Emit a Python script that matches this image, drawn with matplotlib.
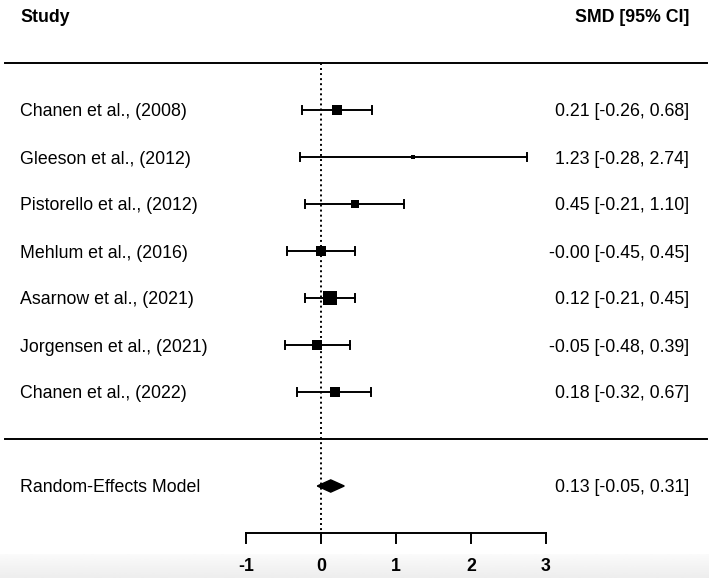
import numpy as np
import matplotlib.pyplot as plt
from matplotlib.patches import Polygon

plt.rcParams['font.family'] = ['Liberation Sans', 'DejaVu Sans']

studies = ['Chanen et al., (2008)', 'Gleeson et al., (2012)', 'Pistorello et al., (2012)',
           'Mehlum et al., (2016)', 'Asarnow et al., (2021)', 'Jorgensen et al., (2021)',
           'Chanen et al., (2022)']
smd = [0.21, 1.23, 0.45, -0.00, 0.12, -0.05, 0.18]
lower = [-0.26, -0.28, -0.21, -0.45, -0.21, -0.48, -0.32]
upper = [0.68, 2.74, 1.10, 0.45, 0.45, 0.39, 0.67]
re_est, re_lo, re_hi = 0.13, -0.05, 0.31
ticks = [-1, 0, 1, 2, 3]

# marker size ~ study weight
msize = [7.4, 3.3, 5.8, 7.7, 9.6, 7.6, 7.4]

FS = 12.8

fig = plt.figure(figsize=(7.09, 5.78), dpi=100)

# light grey band at the bottom of the screenshot
bg = fig.add_axes([0, 0, 1, 0.042])
grad = np.linspace(0.985, 0.93, 50).reshape(-1, 1)
bg.imshow(grad, aspect='auto', cmap='gray', vmin=0, vmax=1, extent=[0, 1, 0, 1])
bg.axis('off')

ax = fig.add_axes([0, 0, 1, 1])
ax.patch.set_alpha(0)
ax.set_xlim(-321 / 75, (709 - 321) / 75)
ax.set_ylim((578 - 110) / 47, -110 / 47)
ax.axis('off')

xl = -321 / 75 + 20 / 75
xr = (689 - 321) / 75

for i in range(len(studies)):
    ax.plot([lower[i], upper[i]], [i, i], color='black', lw=1.4)
    for e in (lower[i], upper[i]):
        ax.plot([e, e], [i - 0.095, i + 0.095], color='black', lw=1.4)
    ax.plot(smd[i], i, marker='s', color='black', ms=msize[i], mew=0)
    ax.text(xl, i, studies[i], fontsize=FS, va='center_baseline', ha='left')
    ax.text(xr, i, f'{smd[i]:.2f} [{lower[i]:.2f}, {upper[i]:.2f}]',
            fontsize=FS, va='center_baseline', ha='right')

re_row = 8
diamond = Polygon([[re_lo, re_row], [re_est, re_row - 0.13], [re_hi, re_row],
                   [re_est, re_row + 0.13]], closed=True, color='black')
ax.add_patch(diamond)
ax.text(xl, re_row, 'Random-Effects Model', fontsize=FS, va='center_baseline', ha='left')
ax.text(xr, re_row, f'{re_est:.2f} [{re_lo:.2f}, {re_hi:.2f}]',
        fontsize=FS, va='center_baseline', ha='right')

# headers and separators
ax.text(xl, -2.0, 'Study', fontsize=FS, fontweight='bold', va='center_baseline')
ax.text(xr, -2.0, 'SMD [95% CI]', fontsize=FS, fontweight='bold',
        va='center_baseline', ha='right')
ax.plot([-321 / 75 + 5 / 75, (707 - 321) / 75], [-1, -1], color='black', lw=1.4)
ax.plot([-321 / 75 + 5 / 75, (707 - 321) / 75], [7, 7], color='black', lw=1.4)

# reference line at 0
ax.plot([0, 0], [-1, 9], color='black', lw=1.4, ls=(0, (1.0, 1.6)))

# x axis
ax.plot([ticks[0], ticks[-1]], [9, 9], color='black', lw=1.4)
for t in ticks:
    ax.plot([t, t], [9, 9.21], color='black', lw=1.4)
    ax.text(t, 9.68, str(t), fontsize=FS, fontweight='bold', ha='center', va='center_baseline')

fig.savefig('out.png', dpi=100)
